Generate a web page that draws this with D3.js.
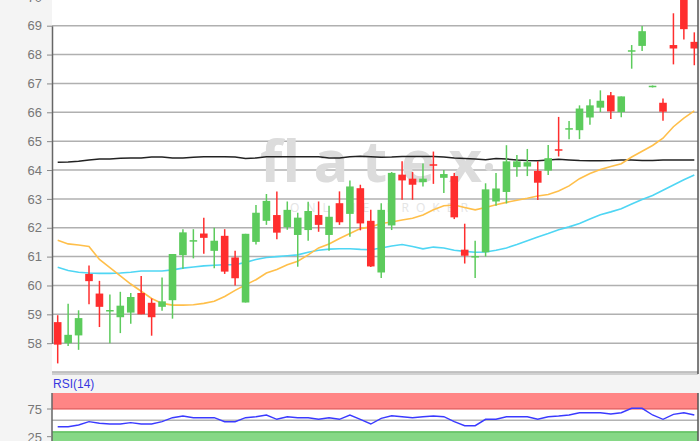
<!DOCTYPE html>
<html><head><meta charset="utf-8">
<script src="https://cdn.jsdelivr.net/npm/d3@7/dist/d3.min.js"></script>
<style>
html,body{margin:0;padding:0;background:#f4f4f4;}
svg{display:block;}
</style></head>
<body>
<svg id="chart" width="700" height="441"></svg>
<script>
// ---- data ----
const open  = [58.73,58.00,58.27,60.40,59.72,59.10,58.90,59.06,59.74,59.40,59.26,59.49,61.05,61.52,61.80,61.20,61.72,60.97,59.41,61.51,62.24,62.44,62.02,61.75,61.92,62.44,61.75,62.85,62.48,63.37,62.24,60.45,62.08,63.84,63.70,63.58,64.20,63.73,63.79,61.24,60.98,61.15,62.91,63.24,64.10,64.12,63.97,63.98,64.72,65.40,65.38,65.82,66.16,66.59,66.01,68.10,68.30,66.88,66.33,68.33,70.30,68.44];
const high  = [58.97,59.37,59.14,60.69,60.16,59.69,59.78,59.74,60.33,59.55,60.28,61.09,61.95,61.95,62.35,62.00,61.95,61.20,61.79,62.79,63.17,63.26,62.91,62.52,62.90,62.91,62.76,63.26,63.64,63.49,62.62,62.85,63.93,64.30,63.93,64.23,64.64,64.00,63.90,62.14,61.55,63.54,63.90,64.86,64.52,64.73,64.30,64.87,65.84,65.70,66.24,66.45,66.76,66.70,66.55,68.33,68.99,66.93,66.48,69.43,70.50,68.77];
const low   = [57.30,57.90,57.77,59.35,58.56,58.00,58.35,58.67,59.00,58.26,59.12,58.85,60.58,60.94,61.10,60.60,60.40,60.00,59.41,61.42,62.10,61.60,61.93,60.65,61.55,61.86,61.20,62.10,61.69,61.91,60.64,60.26,61.92,62.97,62.97,63.43,63.52,63.20,62.30,60.76,60.26,61.00,62.76,62.84,63.77,63.79,62.96,63.83,64.47,65.07,65.07,65.57,66.01,65.77,65.83,67.51,68.12,66.86,65.71,67.66,68.52,67.63];
const close = [57.95,58.29,58.87,60.15,59.26,59.15,59.30,59.60,59.00,58.90,59.45,61.09,61.84,61.57,61.65,61.55,60.48,60.25,61.79,62.52,62.93,61.83,62.62,62.35,62.58,62.10,62.38,62.19,63.43,62.15,60.66,62.62,63.90,63.64,63.49,63.70,64.15,63.86,62.36,61.03,61.02,63.33,63.36,64.30,64.30,64.27,63.56,64.41,64.67,65.45,66.13,66.24,66.40,66.03,66.55,68.15,68.81,66.92,66.02,68.21,68.88,68.21];

const ma20  = [61.57,61.44,61.40,61.35,60.90,60.62,60.33,60.05,59.80,59.55,59.38,59.32,59.32,59.33,59.38,59.45,59.62,59.83,60.02,60.20,60.43,60.55,60.72,60.84,61.06,61.30,61.44,61.63,61.80,61.97,62.03,62.15,62.20,62.27,62.33,62.44,62.62,62.76,62.79,62.70,62.62,62.70,62.80,62.88,62.95,63.02,63.10,63.15,63.27,63.45,63.70,63.88,64.02,64.12,64.22,64.45,64.65,64.85,65.10,65.50,65.80,66.05];
const ma50  = [60.63,60.52,60.46,60.43,60.42,60.42,60.43,60.46,60.50,60.50,60.50,60.54,60.60,60.64,60.68,60.70,60.72,60.72,60.80,60.90,60.97,61.00,61.03,61.06,61.15,61.22,61.26,61.27,61.27,61.25,61.24,61.30,61.37,61.42,61.35,61.27,61.33,61.30,61.22,61.18,61.15,61.16,61.22,61.30,61.42,61.55,61.68,61.80,61.93,62.03,62.15,62.30,62.45,62.55,62.66,62.82,62.98,63.12,63.30,63.48,63.66,63.83];
const ma200 = [64.27,64.28,64.30,64.35,64.38,64.38,64.41,64.42,64.42,64.45,64.45,64.42,64.42,64.44,64.46,64.46,64.46,64.45,64.40,64.42,64.46,64.46,64.46,64.46,64.46,64.46,64.42,64.42,64.46,64.48,64.46,64.44,64.45,64.47,64.47,64.47,64.47,64.45,64.42,64.40,64.38,64.36,64.40,64.38,64.35,64.33,64.32,64.35,64.37,64.35,64.33,64.32,64.32,64.33,64.35,64.35,64.33,64.33,64.35,64.35,64.35,64.35];
const rsi   = [38.5,38.5,41.6,47.6,44.7,43.4,43.4,45.8,43.4,43.4,47.6,54.8,57.9,54.8,54.8,54.8,47.6,47.6,54.8,56.6,59.7,51.9,56.6,54.8,54.8,51.9,54.8,51.9,59.7,51.9,43.4,53.7,58.4,56.6,54.8,56.6,57.9,56.6,47.6,40.3,40.3,51.9,51.9,56.6,56.6,56.6,51.9,56.6,57.9,59.7,63.8,63.8,63.8,61.5,63.8,71.8,71.8,59.7,51.9,60.9,63.8,59.7];

const priceTicks = [58,59,60,61,62,63,64,65,66,67,68,69,70];
const rsiTicks = [75,25];
const rsiBands = {overbought:[70,100], oversold:[0,30], mid:50};
const watermark = "flatex";
const watermarkSub = "ONLINE BROKER";
const rsiLabel = "RSI(14)";

// ---- layout ----
const svg = d3.select("#chart");
const L = 52, R = 698, mainTop = 0, mainBottom = 372, rsiTop = 393, rsiBottom = 441;
const idx = open.map((d,i)=>i);

const x = d3.scaleLinear().domain([0, open.length-1]).range([57.7, 694.3]);
const y = d3.scaleLinear().domain([58, 69]).range([343.2, 25.7]);
const yr = d3.scaleLinear().domain([0, 100]).range([448, 392.7]);

svg.append("rect").attr("width",700).attr("height",441).attr("fill","#f4f4f4");

const defs = svg.append("defs");
defs.append("clipPath").attr("id","mainClip").append("rect")
  .attr("x",L).attr("y",mainTop).attr("width",R-L).attr("height",mainBottom-mainTop);
defs.append("clipPath").attr("id","rsiClip").append("rect")
  .attr("x",L).attr("y",rsiTop).attr("width",R-L).attr("height",rsiBottom-rsiTop);

// main plot background
svg.append("rect").attr("x",L).attr("y",mainTop).attr("width",R-L).attr("height",mainBottom-mainTop).attr("fill","#fff");

const main = svg.append("g").attr("clip-path","url(#mainClip)");

// gridlines
main.selectAll("line.grid").data(priceTicks).join("line").attr("class","grid")
  .attr("x1",L).attr("x2",R).attr("y1",d=>y(d)).attr("y2",d=>y(d))
  .attr("stroke","#b0b0b0").attr("stroke-width",1.5);

// watermark
main.append("text").attr("x",260).attr("y",182).text(watermark)
  .attr("font-family","'Open Sans', 'DejaVu Sans', sans-serif").attr("font-size",58).attr("font-weight",700)
  .attr("fill","#dcdcdc").attr("textLength",222).attr("lengthAdjust","spacing");
main.append("circle").attr("cx",489).attr("cy",167).attr("r",4).attr("fill","#dcdcdc");
main.append("text").attr("x",290).attr("y",212).text(watermarkSub)
  .attr("font-family","'Open Sans', sans-serif").attr("font-size",12)
  .attr("fill","#e4e4e4").attr("textLength",178).attr("lengthAdjust","spacing");

// moving averages
const line = arr => d3.line().x((d,i)=>x(i)).y(d=>y(d))(arr);
main.append("path").attr("d",line(ma200)).attr("fill","none").attr("stroke","#222").attr("stroke-width",1.5);
main.append("path").attr("d",line(ma50)).attr("fill","none").attr("stroke","#4fd6f4").attr("stroke-width",1.6);
main.append("path").attr("d",line(ma20)).attr("fill","none").attr("stroke","#ffbf4a").attr("stroke-width",1.6);

// candles
const up = "#5ccb5c", down = "#ff2e2e";
const cg = main.selectAll("g.c").data(idx).join("g").attr("class","c");
cg.append("line").attr("x1",i=>x(i)).attr("x2",i=>x(i))
  .attr("y1",i=>y(high[i])).attr("y2",i=>y(low[i]))
  .attr("stroke",i=>close[i]>=open[i]?up:down).attr("stroke-width",1.5);
cg.append("rect").attr("x",i=>x(i)-3.8).attr("width",7.6)
  .attr("y",i=>y(Math.max(open[i],close[i])))
  .attr("height",i=>Math.max(1.5, Math.abs(y(open[i])-y(close[i]))))
  .attr("fill",i=>close[i]>=open[i]?up:down);

// main axis
const yAxis = svg.append("g").attr("transform",`translate(${L},0)`)
  .call(d3.axisLeft(y).tickValues(priceTicks).tickSizeInner(5).tickSizeOuter(0).tickPadding(5));
yAxis.select(".domain").attr("stroke","#666").attr("stroke-width",1.5);
yAxis.selectAll(".tick line").attr("stroke","#888");
yAxis.selectAll(".tick text").attr("fill","#777").attr("font-size",13)
  .attr("font-family","'Liberation Sans', Arial, sans-serif");

// borders
svg.append("line").attr("x1",L).attr("x2",R).attr("y1",372).attr("y2",372).attr("stroke","#8a8a8a").attr("stroke-width",1);
svg.append("line").attr("x1",L).attr("x2",R).attr("y1",374).attr("y2",374).attr("stroke","#c4c4c4").attr("stroke-width",1.5);
svg.append("line").attr("x1",R).attr("x2",R).attr("y1",0).attr("y2",374).attr("stroke","#555").attr("stroke-width",1.5);

// RSI panel
svg.append("text").attr("x",53).attr("y",388).text(rsiLabel)
  .attr("fill","#3838e0").attr("font-size",12).attr("font-family","'Liberation Sans', Arial, sans-serif");
svg.append("rect").attr("x",L).attr("y",rsiTop).attr("width",R-L).attr("height",rsiBottom-rsiTop).attr("fill","#fff");
const rp = svg.append("g").attr("clip-path","url(#rsiClip)");
rp.append("rect").attr("x",L).attr("width",R-L)
  .attr("y",yr(rsiBands.overbought[1])).attr("height",yr(rsiBands.overbought[0])-yr(rsiBands.overbought[1]))
  .attr("fill","#ff8585");
rp.append("line").attr("x1",L).attr("x2",R).attr("y1",yr(rsiBands.overbought[0])-0.5).attr("y2",yr(rsiBands.overbought[0])-0.5)
  .attr("stroke","#e86a6a").attr("stroke-width",1.5);
rp.append("rect").attr("x",L).attr("width",R-L)
  .attr("y",yr(rsiBands.oversold[1])).attr("height",yr(rsiBands.oversold[0])-yr(rsiBands.oversold[1]))
  .attr("fill","#86d886");
rp.append("line").attr("x1",L).attr("x2",R).attr("y1",yr(rsiBands.oversold[1])+0.5).attr("y2",yr(rsiBands.oversold[1])+0.5)
  .attr("stroke","#62c062").attr("stroke-width",1.5);
rp.append("line").attr("x1",L).attr("x2",R).attr("y1",yr(rsiBands.mid)).attr("y2",yr(rsiBands.mid))
  .attr("stroke","#b3b3b3").attr("stroke-width",1.5);
rp.append("path").attr("d",d3.line().x((d,i)=>x(i)).y(d=>yr(d))(rsi))
  .attr("fill","none").attr("stroke","#3a3aff").attr("stroke-width",1.4);

const rAxis = svg.append("g").attr("transform",`translate(${L},0)`)
  .call(d3.axisLeft(yr).tickValues(rsiTicks).tickSizeInner(5).tickSizeOuter(0).tickPadding(5));
rAxis.select(".domain").attr("stroke","#666").attr("stroke-width",1.5).attr("d",`M0,${rsiTop}V${rsiBottom}`);
rAxis.selectAll(".tick line").attr("stroke","#888").attr("transform","translate(0,2)");
rAxis.selectAll(".tick text").attr("fill","#777").attr("font-size",13).attr("dy","0.55em")
  .attr("font-family","'Liberation Sans', Arial, sans-serif");
svg.append("line").attr("x1",R).attr("x2",R).attr("y1",rsiTop).attr("y2",rsiBottom).attr("stroke","#555").attr("stroke-width",1.5);
</script>
</body></html>
